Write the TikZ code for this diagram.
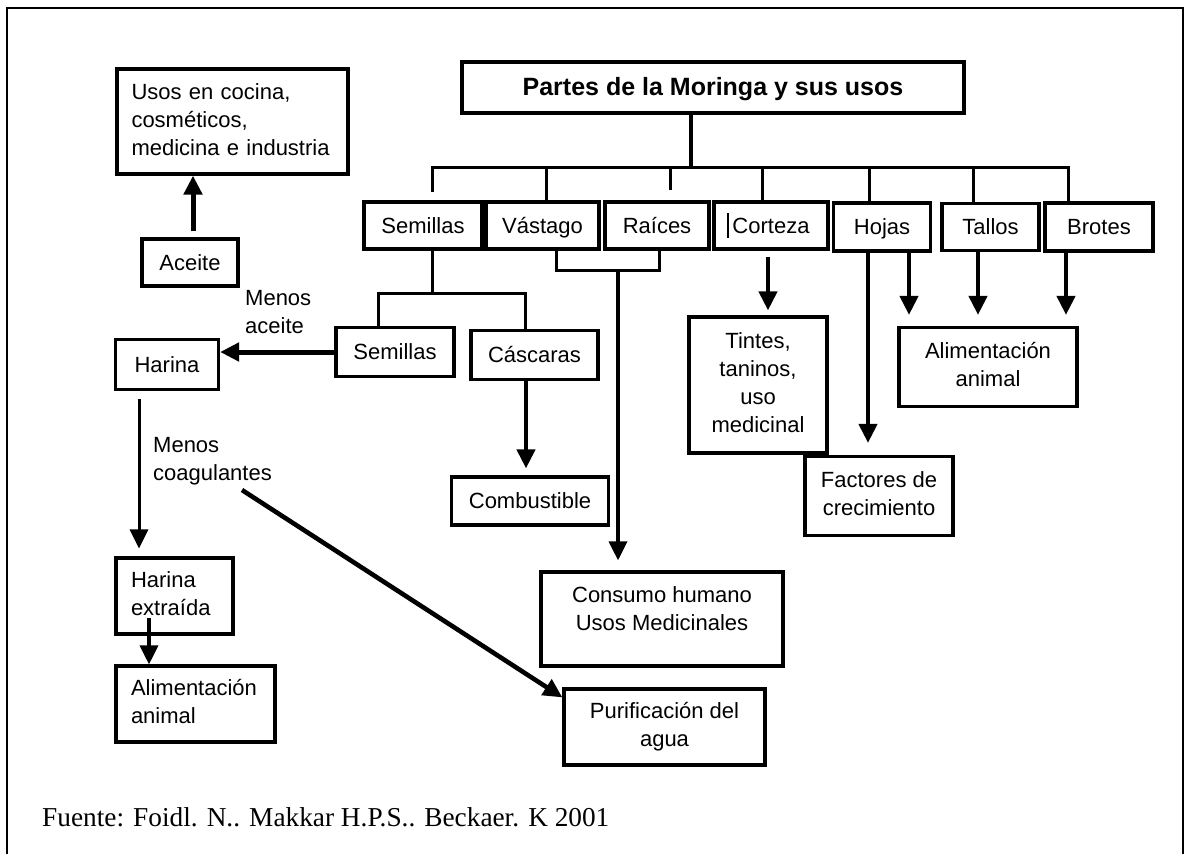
\documentclass[tikz,border=0pt]{standalone}
\usepackage{fontspec}
\setmainfont{Liberation Sans}
\newfontfamily\footfont{Liberation Serif}
\usetikzlibrary{arrows.meta}
\begin{document}
\begin{tikzpicture}[x=1pt,y=-1pt,
  box/.style={draw, line width=3.2pt, inner sep=0pt, align=center, font=\fontsize{22}{28}\selectfont, text depth=5pt},
  one/.style={box, text height=16pt, text depth=1pt},
  two/.style={box, text height=44pt},
  three/.style={box, text height=72pt},
  four/.style={box, text height=100pt},
  ltwo/.style={box, align=left, text height=16pt, text depth=33pt},
  lthree/.style={box, align=left, text height=16pt, text depth=61pt},
  lbl/.style={inner sep=0pt, align=left, font=\fontsize{22}{28}\selectfont},
  tline/.style={line width=3pt},
  arr/.style={line width=4.2pt, -{Triangle[width=18pt,length=19pt]}}]
\useasboundingbox (0,0) rectangle (1188,854);
\draw[line width=1.6pt] (7,854) -- (7,8) -- (1183,8) -- (1183,854);

% nodes
\node[one, minimum width=502pt, minimum height=51pt, font=\bfseries\fontsize{25}{28}\selectfont] (title) at (713,87.5) {Partes de la Moringa y sus usos};
\node[lthree, text width=202pt, inner xsep=14.5pt, minimum height=105pt] (usos) at (232.5,121.5) {Usos en cocina,\\cosméticos,\\medicina e industria};
\node[one, minimum width=96pt, minimum height=47pt] (aceite) at (190,262.5) {Aceite};
\node[one, minimum width=118pt, minimum height=47pt] (semillas) at (423,225.5) {Semillas};
\node[one, minimum width=113pt, minimum height=47pt] (vastago) at (542.5,225.5) {Vástago};
\node[one, minimum width=104pt, minimum height=47pt] (raices) at (657,225.5) {Raíces};
\node[one, minimum width=114pt, minimum height=47pt] (corteza) at (771,225.5) {Corteza};
\node[one, minimum width=97pt, minimum height=48pt] (hojas) at (882,227) {Hojas};
\node[one, minimum width=97pt, minimum height=47pt] (tallos) at (990.5,227) {Tallos};
\node[one, minimum width=108pt, minimum height=48pt] (brotes) at (1099,227) {Brotes};
\node[one, minimum width=118pt, minimum height=49pt] (semillas2) at (395,352) {Semillas};
\node[one, minimum width=127pt, minimum height=49pt] (cascaras) at (534.5,355) {Cáscaras};
\node[one, minimum width=103pt, minimum height=50pt] (harina) at (167,364.5) {Harina};
\node[one, minimum width=157pt, minimum height=48pt] (combustible) at (530,501) {Combustible};
\node[four, minimum width=138pt, minimum height=136pt] (tintes) at (758,385) {Tintes,\\taninos,\\uso\\medicinal};
\node[two, minimum width=148pt, minimum height=79pt] (factores) at (879,496) {Factores de\\crecimiento};
\node[two, minimum width=178pt, minimum height=79pt] (alimr) at (988,367) {Alimentación\\animal};
\node[two, minimum width=242pt, minimum height=94pt, text depth=21pt] (consumo) at (662,619) {Consumo humano\\Usos Medicinales};
\node[two, minimum width=201pt, minimum height=76pt] (purif) at (664.5,727) {Purificación del\\agua};
\node[ltwo, text width=87pt, inner xsep=15pt, minimum height=76pt] (harinaext) at (174.5,596) {Harina\\extraída};
\node[ltwo, text width=129pt, inner xsep=15pt, minimum height=76pt] (aliml) at (195.5,704) {Alimentación\\animal};

\node[lbl, anchor=west] (menosaceite) at (245,312.5) {Menos\\aceite};
\node[lbl, anchor=west] (menoscoag) at (153,461) {Menos\\coagulantes};

\node[anchor=west, inner sep=0pt, font=\footfont\fontsize{27.3}{30}\selectfont] (fuente) at (42,817) {Fuente: Foidl. N.. Makkar H.P.S.. Beckaer. K 2001};

% corteza cursor mark
\draw[line width=1.5pt] (728,213) -- (728,238);

% tree
\coordinate (busL) at (432,167);
\coordinate (busR) at (1068,167);
\draw[line width=3.6pt] ([xshift=-22pt]title.south) -- (691,167);
\draw[tline] (432,192) -- (busL) -- (busR) -- (busR |- brotes.north);
\draw[tline] (546,167) -- (546,167 |- vastago.north);
\draw[tline] (670,167) -- (670,190);
\draw[tline] (762,167) -- (762,167 |- corteza.north);
\draw[tline] (869,167) -- (869,167 |- hojas.north);
\draw[tline] (973,167) -- (973,167 |- tallos.north);

% vastago/raices bracket
\draw[tline] (556,0 |- vastago.south) -- (556,270) -- (659,270) -- (659,0 |- raices.south);
\draw[arr, line width=3.4pt, shorten >=10pt] (618,270) -- (618,0 |- consumo.north);

% semillas split
\draw[tline] (432,0 |- semillas.south) -- (432,293);
\draw[tline] (378,0 |- semillas2.north) -- (378,293) -- (525,293) -- (525,0 |- cascaras.north);
\draw[arr, line width=5pt] (semillas2.west) -- (semillas2.west -| harina.east);
\draw[arr, shorten >=7pt] (526,0 |- cascaras.south) -- (526,0 |- combustible.north);

% left column
\draw[arr, line width=5pt, shorten <=6pt] (193,0 |- aceite.north) -- (193,0 |- usos.south);
\draw[arr, line width=3pt, shorten <=8pt, shorten >=8pt] (139,0 |- harina.south) -- (139,0 |- harinaext.north);
\coordinate (he) at (149,618);
\draw[arr, line width=3.6pt] (he) -- (he |- aliml.north);
\coordinate (coag) at (242,490);
\draw[arr, line width=4.6pt] (coag) -- ([yshift=-10pt]purif.north west);

% right side
\draw[arr, shorten <=6pt, shorten >=5pt] (768,0 |- corteza.south) -- (768,0 |- tintes.north);
\draw[arr, shorten >=12pt] (868,0 |- hojas.south) -- (868,0 |- factores.north);
\draw[arr, shorten >=11pt] (909,0 |- hojas.south) -- (909,0 |- alimr.north);
\draw[arr, shorten >=11pt] (978,0 |- tallos.south) -- (978,0 |- alimr.north);
\draw[arr, shorten >=11pt] (1066,0 |- brotes.south) -- (1066,0 |- alimr.north);
\end{tikzpicture}
\end{document}
